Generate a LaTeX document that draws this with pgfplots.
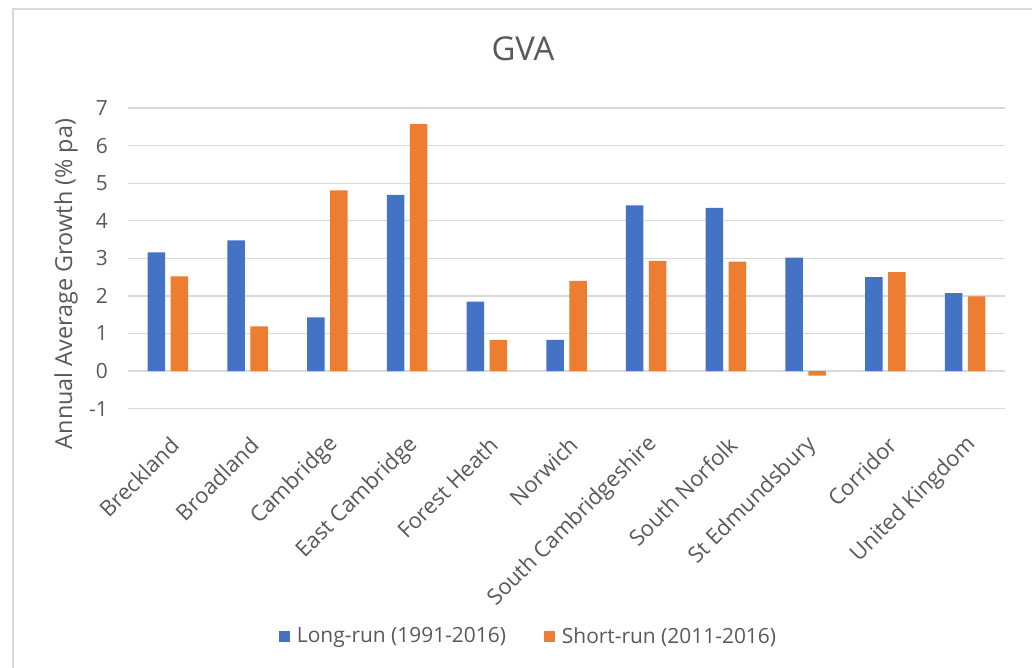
\documentclass[border=0pt]{standalone}
\usepackage{pgfplots}
\pgfplotsset{compat=1.18}
\usepackage{fontspec}
\setmainfont{Open Sans}
\definecolor{cblue}{HTML}{4472C4}
\definecolor{corange}{HTML}{ED7D31}
\definecolor{ctext}{HTML}{595959}
\definecolor{cgrid}{HTML}{D9D9D9}
\begin{document}
\begin{tikzpicture}
\useasboundingbox (0bp,0bp) rectangle (1032bp,668bp);
\fill[white] (0bp,0bp) rectangle (1032bp,668bp);
\draw[cgrid, line width=1.2bp] (13bp,-5bp) -- (13bp,659bp) -- (1040bp,659bp);
\begin{axis}[
  at={(128bp,259.4bp)}, anchor=south west, scale only axis,
  width=877bp, height=300.6bp,
  ybar=5.5bp, bar width=17.5bp,
  xmin=-0.5, xmax=10.5, ymin=-1, ymax=7,
  xtick={0,...,10},
  xticklabels={Breckland,Broadland,Cambridge,East Cambridge,Forest Heath,Norwich,South Cambridgeshire,South Norfolk,St Edmundsbury,Corridor,United Kingdom},
  ytick={-1,0,...,7},
  ymajorgrids, major grid style={cgrid, line width=1.3bp},
  axis line style={draw=none}, tick style={draw=none},
  /pgf/number format/assume math mode=true,
  yticklabel style={font=\fontsize{21}{24}\selectfont, text=ctext, anchor=east, inner sep=0pt, xshift=-20bp},
  xticklabel style={font=\fontsize{22}{26}\selectfont, text=ctext, rotate=45, anchor=east, inner sep=0pt, xshift=-15bp, yshift=-25bp},
  title={GVA},
  title style={at={(axis description cs:0.4504,1.176)}, anchor=center, font=\fontsize{33}{38}\selectfont, text=ctext},
  ylabel={Annual Average Growth (\% pa)},
  ylabel style={at={(axis description cs:-0.0707,0.4145)}, anchor=center, font=\fontsize{23.5}{28}\selectfont, text=ctext},
  legend style={at={(axis description cs:0.4567,-0.7565)}, anchor=center, draw=none, fill=none,
    font=\fontsize{21}{24}\selectfont, text=ctext, legend columns=2,
    /tikz/every odd column/.append style={column sep=5bp},
    /tikz/every even column/.append style={column sep=36bp}},
  legend image code/.code={\fill[#1] (0bp,-5.5bp) rectangle (11bp,5.5bp);},
]
\addplot[fill=cblue, draw=none] coordinates {
(0,3.16) (1,3.48) (2,1.43) (3,4.69) (4,1.85) (5,0.83) (6,4.41) (7,4.34) (8,3.02) (9,2.50) (10,2.07)};
\addplot[fill=corange, draw=none] coordinates {
(0,2.52) (1,1.19) (2,4.81) (3,6.57) (4,0.83) (5,2.40) (6,2.93) (7,2.91) (8,-0.12) (9,2.63) (10,1.99)};
\legend{Long-run (1991-2016),Short-run (2011-2016)}
\end{axis}
\end{tikzpicture}
\end{document}
